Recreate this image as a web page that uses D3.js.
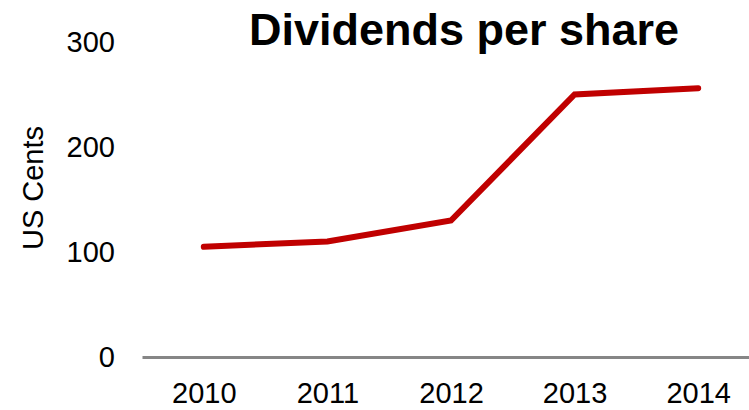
<!DOCTYPE html>
<html>
<head>
<meta charset="utf-8">
<script src="https://cdn.jsdelivr.net/npm/d3@7"></script>
<style>
  html, body { margin: 0; padding: 0; background: #fff; }
  svg { display: block; font-family: "Liberation Sans", Arial, sans-serif; }
</style>
</head>
<body>
<svg id="chart" width="749" height="410"></svg>
<script>
// Dividend per share, US cents, by year
const years = ["2010", "2011", "2012", "2013", "2014"];
const dividends = [105, 110, 130, 250, 256];
const yTicks = [0, 100, 200, 300];

const svg = d3.select("#chart");

const x = d3.scalePoint().domain(years).range([142, 760]).padding(0.5);
const y = d3.scaleLinear().domain([0, 300]).range([357, 42]);

// Title
svg.append("text")
  .attr("x", 464).attr("y", 45)
  .attr("text-anchor", "middle")
  .attr("font-size", 45).attr("font-weight", "bold")
  .attr("fill", "#000")
  .text("Dividends per share");

// Y axis label
svg.append("text")
  .attr("transform", "translate(43,188) rotate(-90)")
  .attr("text-anchor", "middle")
  .attr("font-size", 29)
  .attr("fill", "#000")
  .text("US Cents");

// Y axis (labels only)
const yAxis = svg.append("g")
  .attr("transform", "translate(143,0)")
  .call(d3.axisLeft(y).tickValues(yTicks).tickSize(0).tickPadding(28));
yAxis.select(".domain").remove();
yAxis.selectAll("text")
  .attr("font-size", 29).attr("fill", "#000")
  .attr("font-family", "Liberation Sans, Arial, sans-serif");

// X axis with grey baseline
const xAxis = svg.append("g")
  .attr("transform", `translate(0,${y(0)})`)
  .call(d3.axisBottom(x).tickSize(0).tickSizeOuter(0).tickPadding(25));
xAxis.select(".domain")
  .attr("stroke", "#868686").attr("stroke-width", 3);
xAxis.selectAll("text")
  .attr("font-size", 29).attr("fill", "#000")
  .attr("font-family", "Liberation Sans, Arial, sans-serif");

// Dividend line
const line = d3.line()
  .x((d, i) => x(years[i]))
  .y(d => y(d));

svg.append("path")
  .datum(dividends)
  .attr("d", line)
  .attr("fill", "none")
  .attr("stroke", "#C00000")
  .attr("stroke-width", 6)
  .attr("stroke-linecap", "round")
  .attr("stroke-linejoin", "miter");
</script>
</body>
</html>
